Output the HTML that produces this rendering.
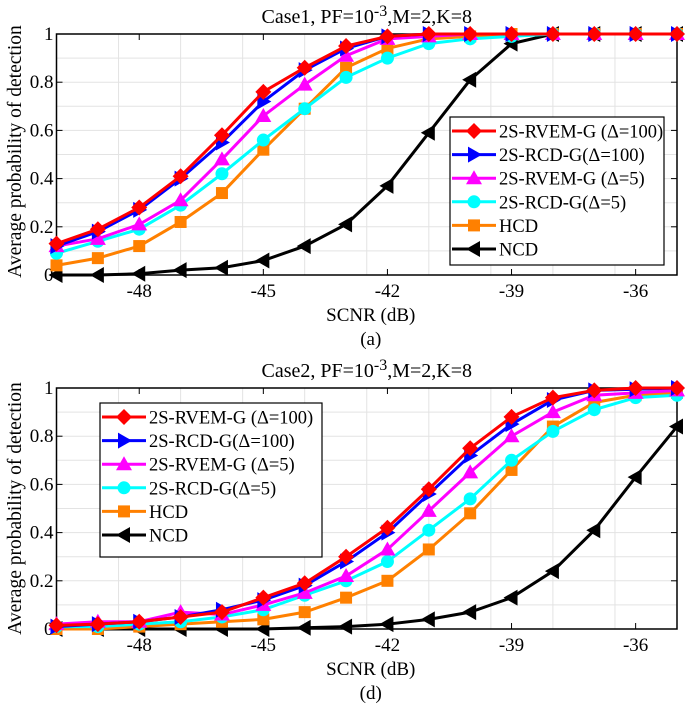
<!DOCTYPE html>
<html><head><meta charset="utf-8"><style>
body{margin:0;background:#fff}
svg{display:block;font-family:"Liberation Serif",serif}
</style></head><body>
<svg id="chart" width="685" height="712"></svg>
<script>
const xVals=[-50,-49,-48,-47,-46,-45,-44,-43,-42,-41,-40,-39,-38,-37,-36,-35];
const xTicks=[-48,-45,-42,-39,-36];
const yTicks=[0,0.2,0.4,0.6,0.8,1];
const yTickLabels=["0","0.2","0.4","0.6","0.8","1"];
const seriesNames=["2S-RVEM-G (\u0394=100)","2S-RCD-G(\u0394=100)","2S-RVEM-G (\u0394=5)","2S-RCD-G(\u0394=5)","HCD","NCD"];
const a_rvem100=[.13,.19,.28,.41,.58,.76,.86,.95,.99,1,1,1,1,1,1,1];
const a_rcd100=[.12,.18,.27,.40,.55,.72,.85,.94,.99,1,1,1,1,1,1,1];
const a_rvem5=[.12,.15,.21,.31,.48,.66,.79,.91,.98,.99,1,1,1,1,1,1];
const a_rcd5=[.09,.14,.19,.29,.42,.56,.69,.82,.90,.96,.98,.99,1,1,1,1];
const a_hcd=[.04,.07,.12,.22,.34,.52,.69,.86,.94,.98,.99,1,1,1,1,1];
const a_ncd=[0,0,.005,.02,.03,.06,.12,.21,.37,.59,.81,.96,1,1,1,1];
const d_rvem100=[.015,.02,.03,.05,.07,.13,.19,.30,.42,.58,.75,.88,.96,.99,1,1];
const d_rcd100=[.01,.02,.03,.05,.08,.12,.18,.28,.40,.56,.72,.85,.95,.99,.995,1];
const d_rvem5=[.02,.03,.03,.07,.06,.10,.15,.22,.33,.49,.65,.80,.90,.97,.98,.99];
const d_rcd5=[.01,.01,.02,.03,.05,.08,.14,.20,.28,.41,.54,.70,.82,.91,.96,.97];
const d_hcd=[0,0,.01,.02,.03,.04,.07,.13,.20,.33,.48,.66,.84,.94,.97,.98];
const d_ncd=[0,0,0,0,0,0,.005,.01,.02,.04,.07,.13,.24,.41,.63,.84];
const colors=["#ff0000","#0000ff","#ff00ff","#00ffff","#ff8000","#000000"];
const markers=["diamond","tri-right","tri-up","circle","square","tri-left"];
const NS="http://www.w3.org/2000/svg";
const svg=document.getElementById("chart");
function mk(tag,attrs,parent){const e=document.createElementNS(NS,tag);for(const k in attrs)e.setAttribute(k,attrs[k]);(parent||svg).appendChild(e);return e;}
function marker(g,type,cx,cy,col){let e;
 if(type==="circle")e=mk("circle",{cx,cy,r:6.5,fill:col},g);
 else if(type==="square")e=mk("rect",{x:cx-6,y:cy-6,width:12,height:12,fill:col},g);
 else{let p;
  if(type==="diamond")p=[[cx,cy-8],[cx+8,cy],[cx,cy+8],[cx-8,cy]];
  if(type==="tri-up")p=[[cx,cy-8],[cx+8,cy+6],[cx-8,cy+6]];
  if(type==="tri-right")p=[[cx+8,cy],[cx-6,cy-8],[cx-6,cy+8]];
  if(type==="tri-left")p=[[cx-8,cy],[cx+6,cy-8],[cx+6,cy+8]];
  e=mk("polygon",{points:p.map(q=>q.join(",")).join(" "),fill:col},g);}
 return e;}
function panel(id,top,bottom,title,sub,data,leg){
 const L=56.5,R=677;
 const xs=v=>L+(v+50)/15*(R-L);
 const ys=v=>bottom-v*(bottom-top);
 const g=mk("g",{});
 
 
 for(let v=-48.5;v<=-35.5;v+=1.5){const l=mk("line",{x1:xs(v),x2:xs(v),y1:top,y2:bottom,stroke:"#e3e3e3","stroke-width":1},g);}
 for(let v=0.1;v<1;v+=0.1){const l=mk("line",{x1:L,x2:R,y1:ys(v),y2:ys(v),stroke:"#e3e3e3","stroke-width":1},g);}
 const box=mk("rect",{x:L,y:top,width:R-L,height:bottom-top,fill:"none",stroke:"#000","stroke-width":1.5},g);
 
 xTicks.forEach(t=>{mk("line",{x1:xs(t),x2:xs(t),y1:bottom,y2:bottom-6,stroke:"#000"},g);mk("line",{x1:xs(t),x2:xs(t),y1:top,y2:top+6,stroke:"#000"},g);
  const tx=mk("text",{x:xs(t),y:bottom+22,"text-anchor":"middle","font-size":"19"},g);tx.textContent=String(t);});
 yTicks.forEach((t,i)=>{mk("line",{x1:L,x2:L+6,y1:ys(t),y2:ys(t),stroke:"#000"},g);mk("line",{x1:R,x2:R-6,y1:ys(t),y2:ys(t),stroke:"#000"},g);
  const tx=mk("text",{x:L-3,y:ys(t)+6,"text-anchor":"end","font-size":"19"},g);tx.textContent=yTickLabels[i];});
 const tt=mk("text",{x:(L+R)/2,y:top-11,"text-anchor":"middle","font-size":"20"},g);
 tt.innerHTML=title+', PF=10<tspan dy="-7" font-size="16">-3</tspan><tspan dy="7">,M=2,K=8</tspan>';
 
 const xl=mk("text",{x:(L+R)/2+4,y:bottom+46,"text-anchor":"middle","font-size":"19"},g);xl.textContent="SCNR (dB)";
 
 const sl=mk("text",{x:(L+R)/2+4,y:bottom+70,"text-anchor":"middle","font-size":"19"},g);sl.textContent=sub;
 
 const yl=mk("text",{x:0,y:0,"text-anchor":"middle","font-size":"19.5",transform:`translate(21,${(top+bottom)/2+(id==="case1"?-3:0)}) rotate(-90)`},g);yl.textContent="Average probability of detection";
 
 for(let s=data.length-1;s>=0;s--){
  const sg=mk("g",{},g);
  
  
  const pl=mk("polyline",{points:data[s].map((v,i)=>xs(xVals[i])+","+ys(v)).join(" "),fill:"none",stroke:colors[s],"stroke-width":3},sg);
  
  data[s].forEach((v,i)=>{const m=marker(sg,markers[s],xs(xVals[i]),ys(v),colors[s]);});
 }
 const lg=mk("g",{},g);
 
 mk("rect",{x:leg[0],y:leg[1],width:leg[2],height:leg[3],fill:"#fff",stroke:"#000","stroke-width":1.2},lg);
 seriesNames.forEach((n,i)=>{const cy=leg[1]+14+i*23.6;
  const eg=mk("g",{},lg);
  mk("line",{x1:leg[0]+2,x2:leg[0]+46,y1:cy,y2:cy,stroke:colors[i],"stroke-width":3},eg);
  marker(eg,markers[i],leg[0]+24,cy,colors[i]);
  const t=mk("text",{x:leg[0]+49,y:cy+6.5,"font-size":"18.5"},eg);t.textContent=n;});
}
panel("case1",34,275,"Case1","(a)",[a_rvem100,a_rcd100,a_rvem5,a_rcd5,a_hcd,a_ncd],[450,117,214,148]);
panel("case2",388,629,"Case2","(d)",[d_rvem100,d_rcd100,d_rvem5,d_rcd5,d_hcd,d_ncd],[100,403,222,154]);
</script>
</body></html>
